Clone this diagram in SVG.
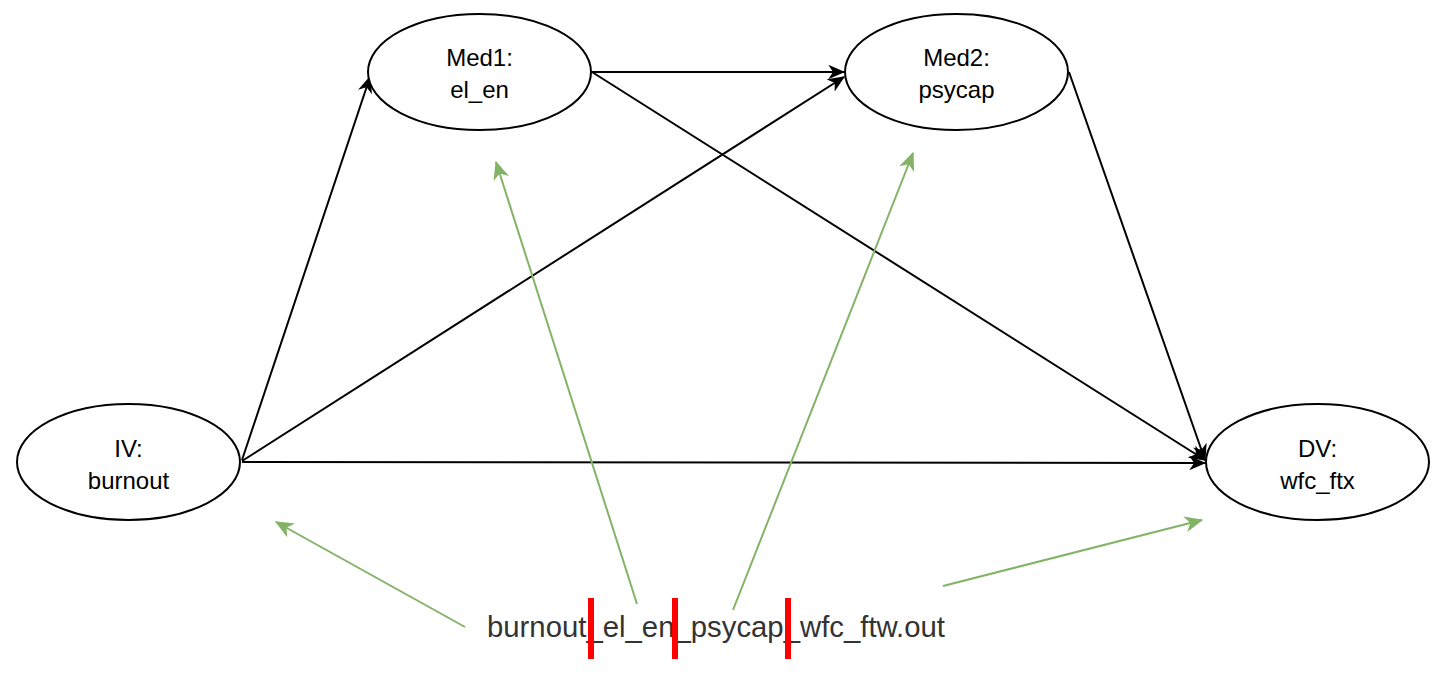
<svg xmlns="http://www.w3.org/2000/svg" width="1449" height="682" viewBox="0 0 1449 682">
<style>
.node ellipse{fill:#fff;stroke:#000;stroke-width:2}
.lbl{font-family:"Liberation Sans",Arial,sans-serif;font-size:24px;fill:#000;text-anchor:middle}
.blk{stroke:#000;stroke-width:2;fill:none;marker-end:url(#ab)}
.grn{stroke:#82b366;stroke-width:2;fill:none;marker-end:url(#ag)}
.bar{fill:#ff0000}
</style>
<defs>
<marker id="ab" viewBox="0 0 14 12" refX="13" refY="6" markerWidth="17" markerHeight="15" markerUnits="userSpaceOnUse" orient="auto">
<path d="M0,0 L14,6 L0,12 L4,6 Z" fill="#000"/>
</marker>
<marker id="ag" viewBox="0 0 14 12" refX="13" refY="6" markerWidth="19" markerHeight="16" markerUnits="userSpaceOnUse" orient="auto">
<path d="M0,0 L14,6 L0,12 L4,6 Z" fill="#82b366"/>
</marker>
</defs>
<g id="connectors">
<line class="blk" x1="242" y1="460" x2="370" y2="77"/>
<line class="blk" x1="242" y1="461" x2="844" y2="77"/>
<line class="blk" x1="242" y1="462" x2="1205" y2="463"/>
<line class="blk" x1="592" y1="72" x2="844" y2="72"/>
<line class="blk" x1="592" y1="72" x2="1205" y2="460"/>
<line class="blk" x1="1069" y1="72" x2="1205" y2="460"/>
<line class="grn" x1="465" y1="627" x2="276" y2="522"/>
<line class="grn" x1="637" y1="604" x2="496" y2="162"/>
<line class="grn" x1="733" y1="610" x2="913" y2="153"/>
<line class="grn" x1="943" y1="586" x2="1202" y2="520"/>
</g>
<g id="med1" class="node">
<ellipse cx="479.5" cy="72" rx="111.5" ry="58"/>
<text class="lbl" x="479.5" y="66">Med1:</text>
<text class="lbl" x="479.5" y="98">el_en</text>
</g>
<g id="med2" class="node">
<ellipse cx="956.5" cy="72" rx="111.5" ry="58"/>
<text class="lbl" x="956.5" y="66">Med2:</text>
<text class="lbl" x="956.5" y="98">psycap</text>
</g>
<g id="iv" class="node">
<ellipse cx="128.5" cy="462" rx="111.5" ry="58"/>
<text class="lbl" x="128.5" y="457">IV:</text>
<text class="lbl" x="128.5" y="489">burnout</text>
</g>
<g id="dv" class="node">
<ellipse cx="1317.5" cy="462" rx="111.5" ry="58"/>
<text class="lbl" x="1317.5" y="457">DV:</text>
<text class="lbl" x="1317.5" y="489">wfc_ftx</text>
</g>
<g id="filename">
<text x="487" y="637" font-family="'Liberation Sans',Arial,sans-serif" font-size="29" fill="#333333" textLength="458" lengthAdjust="spacingAndGlyphs">burnout_el_en_psycap_wfc_ftw.out</text>
<rect class="bar" x="588" y="598" width="6" height="61"/>
<rect class="bar" x="672" y="598" width="6" height="61"/>
<rect class="bar" x="785" y="598" width="6" height="61"/>
</g>
</svg>
